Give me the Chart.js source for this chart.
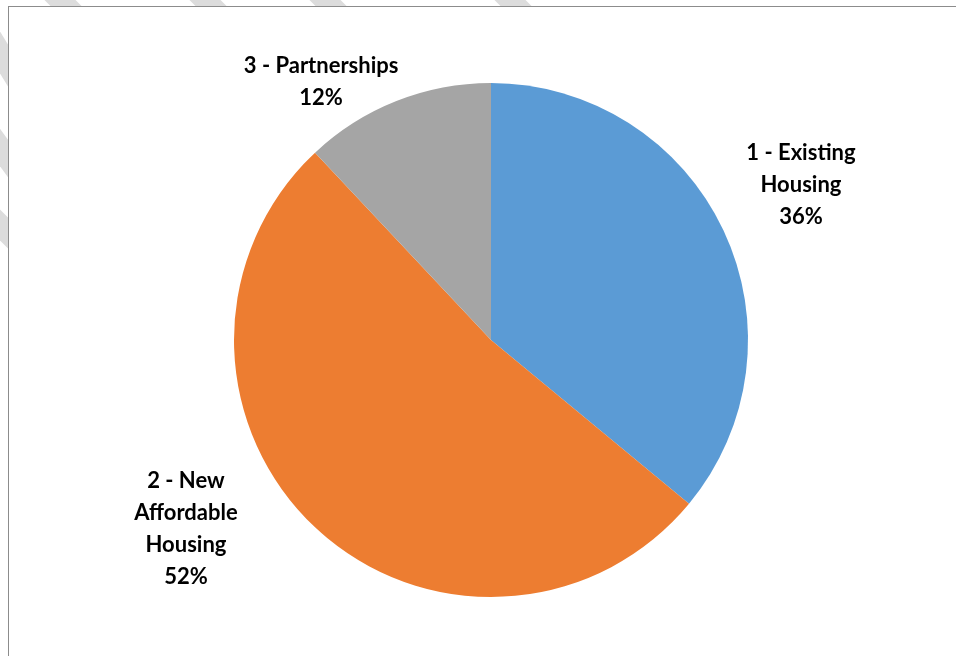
<!DOCTYPE html>
<html lang="en">

<head>
    <meta charset="UTF-8">
    <title>Housing pie</title>
    <style>
        html, body {
            margin: 0;
            padding: 0;
            background: #fff;
            overflow: hidden;
        }

        #wrap {
            position: relative;
            width: 956px;
            height: 656px;
        }

        /* frame of the chart object, runs off the right and bottom */
        #frame {
            position: absolute;
            left: 8px;
            top: 6px;
            width: 1000px;
            height: 700px;
            border-left: 1px solid #8c8c8c;
            border-top: 1px solid #8c8c8c;
            pointer-events: none;
        }
    </style>
</head>

<body>
    <div id="wrap">
        <canvas id="pieChart" width="956" height="656"></canvas>
        <div id="frame"></div>
    </div>

    <script src="https://cdn.jsdelivr.net/npm/chart.js"></script>
    <script>
        const categories = ['1 - Existing Housing', '2 - New Affordable Housing', '3 - Partnerships'];
        const shares = [36, 52, 12];
        const labelLines = [
            ['1 - Existing', 'Housing'],
            ['2 - New', 'Affordable', 'Housing'],
            ['3 - Partnerships']
        ];
        const colors = ['#5B9BD5', '#ED7D31', '#A5A5A5'];

        // where each label block sits, as multiples of the pie radius from its centre
        const labelSpots = [[1.206, -0.603], [-1.187, 0.735], [-0.661, -1.004]];

        // faint watermark dashes outside the frame
        const watermark = {
            id: 'watermark',
            beforeDraw(chart) {
                const ctx = chart.ctx;
                ctx.save();
                ctx.beginPath();
                ctx.rect(0, 0, 956, 6);
                ctx.rect(0, 0, 8, 656);
                ctx.clip();
                ctx.strokeStyle = '#dcdcdc';
                ctx.lineWidth = 22;
                const segs = [
                    [40, -20, 80, 20], [185, -20, 225, 20], [305, -20, 345, 20], [490, -20, 530, 20],
                    [-20, 20, 20, 85], [-20, 120, 20, 175], [-20, 205, 20, 245]
                ];
                segs.forEach(s => {
                    ctx.beginPath();
                    ctx.moveTo(s[0], s[1]);
                    ctx.lineTo(s[2], s[3]);
                    ctx.stroke();
                });
                ctx.restore();
            }
        };

        const sliceLabels = {
            id: 'sliceLabels',
            afterDatasetsDraw(chart) {
                const ctx = chart.ctx;
                const meta = chart.getDatasetMeta(0);
                const total = shares.reduce((a, b) => a + b, 0);
                ctx.save();
                ctx.font = 'bold 22px Lato, "Open Sans", sans-serif';
                ctx.fillStyle = '#000';
                ctx.textAlign = 'center';
                ctx.textBaseline = 'middle';
                meta.data.forEach((arc, i) => {
                    const r = arc.outerRadius;
                    const cx = arc.x + labelSpots[i][0] * r;
                    const cy = arc.y + labelSpots[i][1] * r;
                    const lines = labelLines[i].concat([Math.round(shares[i] / total * 100) + '%']);
                    const lh = 32;
                    const top = cy - (lines.length - 1) * lh / 2;
                    lines.forEach((t, k) => ctx.fillText(t, cx, top + k * lh));
                });
                ctx.restore();
            }
        };

        new Chart(document.getElementById('pieChart').getContext('2d'), {
            type: 'pie',
            data: {
                labels: categories,
                datasets: [{
                    data: shares,
                    backgroundColor: colors,
                    borderWidth: 0
                }]
            },
            options: {
                responsive: false,
                animation: false,
                layout: {
                    padding: { left: 26, right: 0, top: 83, bottom: 59 }
                },
                plugins: {
                    legend: { display: false },
                    tooltip: { enabled: false }
                }
            },
            plugins: [watermark, sliceLabels]
        });
    </script>
</body>

</html>
